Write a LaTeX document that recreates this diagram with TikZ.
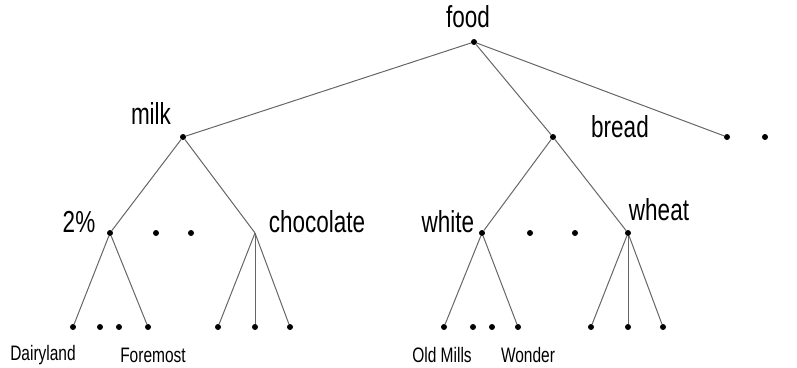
\documentclass[tikz,border=0pt]{standalone}
\usepackage{graphicx}
\usepackage{fontspec}
\setmainfont{Liberation Sans}
\usetikzlibrary{positioning}

\newcommand{\tall}[1]{\scalebox{1}[1.35]{#1}}

\begin{document}
\begin{tikzpicture}[x=1pt, y=-1pt,
            dotnode/.style={circle, fill=black, inner sep=0pt, minimum size=6pt},
            joint/.style={inner sep=0pt, minimum size=0pt},
            catlabel/.style={inner sep=0pt, font=\fontsize{22.5}{24}\selectfont},
            brandlabel/.style={inner sep=0pt, font=\fontsize{15.5}{17}\selectfont},
            branch/.style={draw=black!60, line width=1pt},
            ]
            \useasboundingbox (0,0) rectangle (797,367);
            %Nodes
            \node[dotnode]  (food)   at (474,42)  {};
            \node[dotnode]  (milk)   at (183,137) {};
            \node[dotnode]  (bread)  at (553,137) {};
            \node[dotnode]  (more1)  at (727,137) {};
            \node[dotnode]  (more2)  at (765,137) {};

            \node[dotnode]  (twopct) at (110,233) {};
            \node[dotnode]  (milkx1) at (156,233) {};
            \node[dotnode]  (milkx2) at (191,233) {};
            \node[joint]    (choc)   at (255,233) {};
            \node[dotnode]  (white)  at (482,233) {};
            \node[dotnode]  (brdx1)  at (530,233) {};
            \node[dotnode]  (brdx2)  at (575,233) {};
            \node[dotnode]  (wheat)  at (628,233) {};

            \node[dotnode]  (dairy)  at (73,327)  {};
            \node[dotnode]  (twox1)  at (100,327) {};
            \node[dotnode]  (twox2)  at (119,327) {};
            \node[dotnode]  (fore)   at (148,327) {};
            \node[dotnode]  (choca)  at (218,327) {};
            \node[dotnode]  (chocb)  at (255,327) {};
            \node[dotnode]  (chocc)  at (290,327) {};
            \node[dotnode]  (oldm)   at (444,327) {};
            \node[dotnode]  (whx1)   at (473,327) {};
            \node[dotnode]  (whx2)   at (492,327) {};
            \node[dotnode]  (wond)   at (518,327) {};
            \node[dotnode]  (wheata) at (591,327) {};
            \node[dotnode]  (wheatb) at (628,327) {};
            \node[dotnode]  (wheatc) at (663,327) {};

            %Labels
            \node[catlabel]   (foodtxt)  at (468,17)  {\tall{food}};
            \node[catlabel]   (milktxt)  at (151,113) {\tall{milk}};
            \node[catlabel]   (breadtxt) at (620,127) {\tall{bread}};
            \node[catlabel]   (twotxt)   at (79,222)  {\tall{2\%}};
            \node[catlabel]   (choctxt)  at (317,222) {\tall{chocolate}};
            \node[catlabel]   (whitetxt) at (448,222) {\tall{white}};
            \node[catlabel]   (wheattxt) at (659,210) {\tall{wheat}};
            \node[brandlabel] (dairytxt) at (43,355)  {\tall{Dairyland}};
            \node[brandlabel] (foretxt)  at (153,355) {\tall{Foremost}};
            \node[brandlabel] (oldmtxt)  at (442,355) {\tall{Old Mills}};
            \node[brandlabel] (wondtxt)  at (528,355) {\tall{Wonder}};

            %Lines
            \draw[branch] (food) -- (milk);
            \draw[branch] (food) -- (bread);
            \draw[branch] (food) -- (more1);
            \draw[branch] (milk) -- (twopct);
            \draw[branch] (milk) -- (choc);
            \draw[branch] (bread) -- (white);
            \draw[branch] (bread) -- (wheat);
            \draw[branch] (twopct) -- (dairy);
            \draw[branch] (twopct) -- (fore);
            \foreach \leaf in {choca, chocb, chocc}
                \draw[branch] (choc) -- (\leaf);
            \draw[branch] (white) -- (oldm);
            \draw[branch] (white) -- (wond);
            \foreach \leaf in {wheata, wheatb, wheatc}
                \draw[branch] (wheat) -- (\leaf);

        \end{tikzpicture}
\end{document}
